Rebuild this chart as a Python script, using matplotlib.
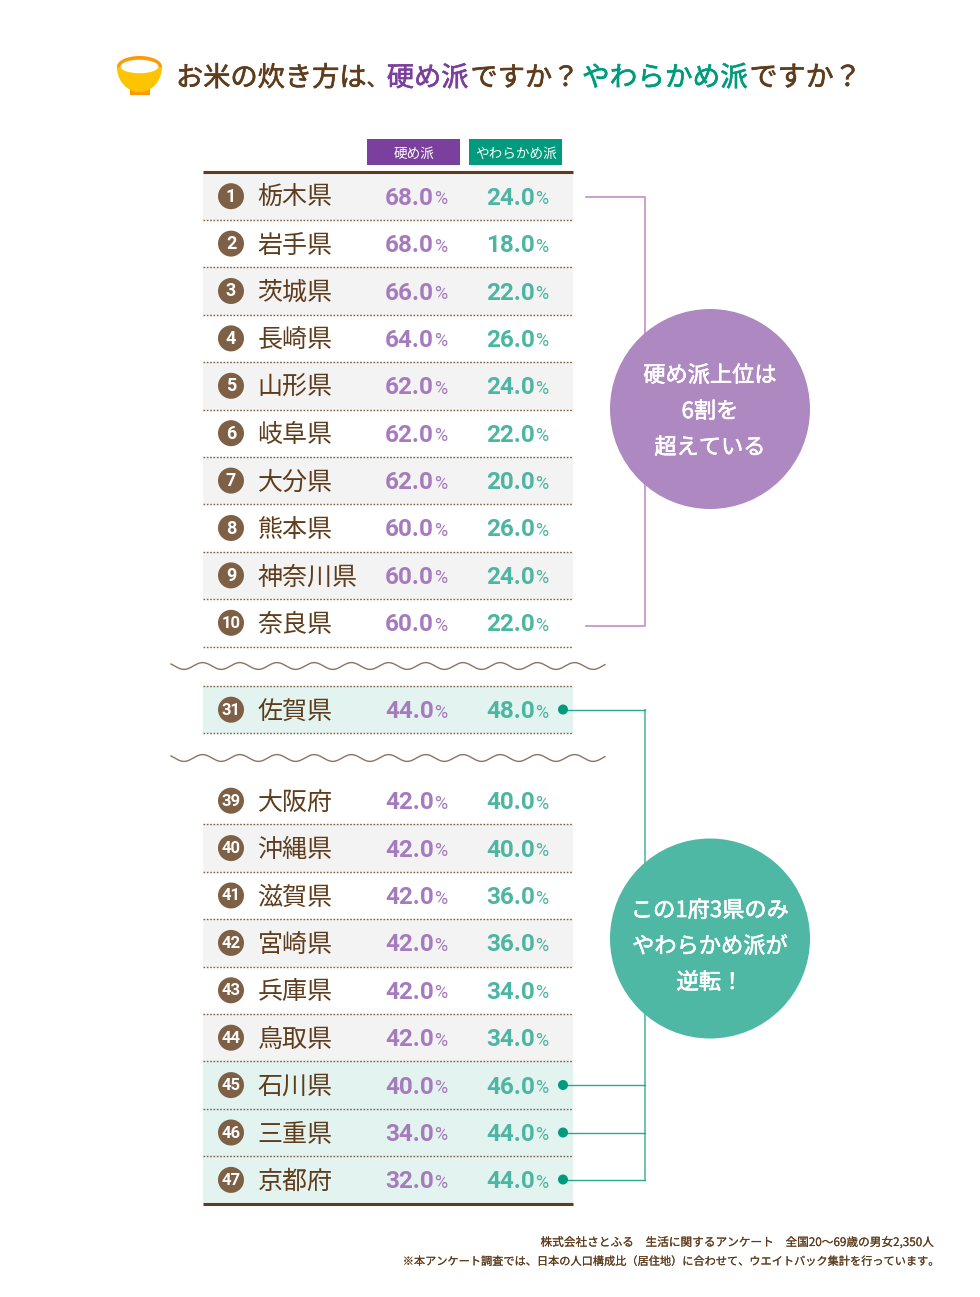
import numpy as np
import matplotlib
matplotlib.use("Agg")
import matplotlib.pyplot as plt
import matplotlib.patheffects as pe
from matplotlib.patches import Circle, Ellipse, Polygon, Rectangle

plt.rcParams["font.family"] = ["Noto Sans CJK JP", "DejaVu Sans"]

BROWN = "#5E3C1C"
BADGE = "#7D6045"
PURPLE = "#7B3F9E"
TEAL = "#009B7D"
PURPLE_NUM = "#A67BBD"
TEAL_NUM = "#4DB6A2"
PURPLE_CIRCLE = "#AE88C1"
TEAL_CIRCLE = "#4FB8A4"
GRAY_ROW = "#F3F3F3"
TEAL_ROW = "#E3F3EF"

ranks_top = [1, 2, 3, 4, 5, 6, 7, 8, 9, 10]
names_top = ["栃木県", "岩手県", "茨城県", "長崎県", "山形県", "岐阜県", "大分県", "熊本県", "神奈川県", "奈良県"]
hard_top = [68.0, 68.0, 66.0, 64.0, 62.0, 62.0, 62.0, 60.0, 60.0, 60.0]
soft_top = [24.0, 18.0, 22.0, 26.0, 24.0, 22.0, 20.0, 26.0, 24.0, 22.0]

ranks_mid = [31]
names_mid = ["佐賀県"]
hard_mid = [44.0]
soft_mid = [48.0]

ranks_low = [39, 40, 41, 42, 43, 44, 45, 46, 47]
names_low = ["大阪府", "沖縄県", "滋賀県", "宮崎県", "兵庫県", "鳥取県", "石川県", "三重県", "京都府"]
hard_low = [42.0, 42.0, 42.0, 42.0, 42.0, 42.0, 40.0, 34.0, 32.0]
soft_low = [40.0, 40.0, 36.0, 36.0, 34.0, 34.0, 46.0, 44.0, 44.0]

title_parts = [
    ("お米の炊き方は", 176, BROWN, 19.6),
    ("、", 366.7, BROWN, 14.3),
    ("硬め派", 386.8, PURPLE, 19.6),
    ("ですか？", 470.5, BROWN, 19.6),
    ("やわらかめ派", 582, TEAL, 19.9),
    ("ですか？", 749.5, BROWN, 20.2),
]
note_lines = [
    "株式会社さとふる　生活に関するアンケート　全国20～69歳の男女2,350人",
    "※本アンケート調査では、日本の人口構成比（居住地）に合わせて、ウエイトバック集計を行っています。",
]

fig = plt.figure(figsize=(9.8, 12.97), dpi=100)
ax = fig.add_axes([0, 0, 1, 1])
ax.set_xlim(0, 980)
ax.set_ylim(1297, 0)
ax.axis("off")


def thick(col, w=0.45):
    # the CJK font has no medium weight here, so fatten the regular one a little
    return [pe.withStroke(linewidth=w, foreground=col)]


def dotted(y):
    ax.plot([202.5, 572.5], [y, y], color="#7D6045", lw=1.0, ls=(0, (1.2, 1.2)), zorder=3)


def draw_row(rank, name, hard, soft, top, h, fill):
    if fill:
        ax.add_patch(Rectangle((202.5, top), 370, h, fc=fill, ec="none", zorder=1))
    y = top + h / 2
    ax.add_patch(Circle((231, y), 13, fc=BADGE, ec="none", zorder=4))
    ax.text(231, y + 0.5, str(rank), color="white", fontsize=13 if rank < 10 else 12, weight="bold",
            family="Roboto", ha="center", va="center", zorder=5)
    ax.text(257.5, y + 2, name, color=BROWN, fontsize=18, ha="left", va="center", zorder=5)
    for val, right, col in [(hard, 434, PURPLE_NUM), (soft, 535, TEAL_NUM)]:
        ax.text(right, y + 2, f"{val:.1f}", color=col, fontsize=17.5, weight="bold",
                family="Roboto", ha="right", va="center", zorder=5)
        ax.text(right + 0.5, y + 3, "%", color=col, fontsize=13, family="Roboto",
                ha="left", va="center", zorder=5)


def wave(y):
    x = np.linspace(171, 605, 800)
    ax.plot(x, y + 3.4 * np.cos((x - 184) * 2 * np.pi / 37.2), color="#8A7460", lw=1.0, zorder=2)


# title and bowl
ax.add_patch(Rectangle((130, 88), 20, 7, fc="#FF9A00", ec="none", zorder=1))
ax.add_patch(Ellipse((139.5, 66.5), 45, 21, fc="#FF9A00", ec="none", zorder=2))
bowl_t = np.linspace(0, np.pi, 60)
ax.add_patch(Polygon(np.c_[139.5 + 22.5 * np.cos(bowl_t), 67 + 25 * np.sin(bowl_t)],
                     fc="#FFC400", ec="none", zorder=3))
ax.add_patch(Ellipse((139.5, 66.5), 38, 13.5, fc="white", ec="none", zorder=4))
for part, x, col, size in title_parts:
    ax.text(x, 86, part, color=col, fontsize=size, ha="left", va="baseline", path_effects=thick(col))

# column headers
ax.add_patch(Rectangle((367, 139), 93, 26, fc=PURPLE, ec="none"))
ax.add_patch(Rectangle((469, 139), 93, 26, fc=TEAL, ec="none"))
ax.text(414, 154, "硬め派", color="white", fontsize=9.8, ha="center", va="center")
ax.text(516, 154, "やわらかめ派", color="white", fontsize=9.8, ha="center", va="center")

# top ten
ROW_H = 47.4
top_y = 172.5
for i in range(len(ranks_top)):
    fill = GRAY_ROW if i % 2 == 0 else None
    draw_row(ranks_top[i], names_top[i], hard_top[i], soft_top[i], top_y + i * ROW_H, ROW_H, fill)
    dotted(top_y + (i + 1) * ROW_H)
ax.plot([202.5, 572.5], [172, 172], color=BROWN, lw=2.2, zorder=3, solid_capstyle="butt")

# single row in the middle
wave(666)
draw_row(ranks_mid[0], names_mid[0], hard_mid[0], soft_mid[0], 686, ROW_H, TEAL_ROW)
dotted(686)
dotted(686 + ROW_H)
wave(758)

# bottom block
low_y = 777
for i in range(len(ranks_low)):
    if soft_low[i] > hard_low[i]:
        fill = TEAL_ROW
    else:
        fill = GRAY_ROW if i % 2 == 1 else None
    draw_row(ranks_low[i], names_low[i], hard_low[i], soft_low[i], low_y + i * ROW_H, ROW_H, fill)
    if i < len(ranks_low) - 1:
        dotted(low_y + (i + 1) * ROW_H)
ax.plot([202.5, 572.5], [1204, 1204], color=BROWN, lw=2.2, zorder=3, solid_capstyle="butt")

# purple bracket
ax.plot([586, 645, 645, 586], [196.5, 196.5, 625.5, 625.5], color="#C48FC6", lw=1.2, zorder=2)
ax.add_patch(Circle((710, 409), 100, fc=PURPLE_CIRCLE, ec="none", zorder=6))
for txt, y in zip(["硬め派上位は", "6割を", "超えている"], [375.5, 411.5, 447.5]):
    ax.text(710, y, txt, color="white", fontsize=16, ha="center", va="center", zorder=7,
            path_effects=thick("white"))

# teal bracket with dots
teal_rows = [709.5, 1085, 1132.5, 1179.5]
ax.plot([645, 645], [teal_rows[0], teal_rows[-1]], color="#5FBFAC", lw=1.3, zorder=2)
for y in teal_rows:
    ax.plot([563, 645], [y, y], color="#2BA78F", lw=1.0, zorder=2)
    ax.add_patch(Circle((563, y), 5, fc=TEAL, ec="none", zorder=5))
ax.add_patch(Circle((710, 938.5), 100, fc=TEAL_CIRCLE, ec="none", zorder=6))
for txt, y in zip(["この1府3県のみ", "やわらかめ派が", "逆転！"], [910.5, 946.5, 982.5]):
    ax.text(710, y, txt, color="white", fontsize=16, ha="center", va="center", zorder=7,
            path_effects=thick("white"))

# footnote
for line, x, y, size in zip(note_lines, [933, 937], [1242.5, 1261.5], [8.4, 8.05]):
    ax.text(x, y, line, color=BROWN, fontsize=size, ha="right", va="center",
            path_effects=thick(BROWN, 0.1))

fig.savefig("out.png", dpi=100)
